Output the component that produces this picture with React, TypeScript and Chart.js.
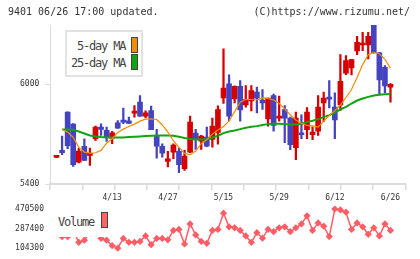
import React, { useEffect, useRef } from "react";
import { Chart, registerables } from "chart.js";

Chart.register(...registerables);

// Trading days 3/30 .. 6/26 (index 0 .. 60); date labels every 10 sessions
const dateLabels = ["4/13", "4/27", "5/15", "5/29", "6/12", "6/26"];
const dateLabelIndex = [10, 20, 30, 40, 50, 60];

const opens = [
  5560, 5602, 5832, 5760, 5532, 5626, 5572, 5672, 5742, 5722,
  5676, 5768, 5784, 5780, 5826, 5892, 5808, 5842, 5692, 5626,
  5536, 5592, 5596, 5492, 5592, 5706, 5658, 5682, 5668, 5710,
  5918, 6002, 5912, 5988, 5876, 5900, 5952, 5904, 5792, 5932,
  5796, 5848, 5796, 5618, 5706, 5726, 5696, 5718, 5888, 5922,
  5862, 5876, 6066, 6098, 6200, 6236, 6236, 6356, 6188, 6102, 5982,
];
const highs = [
  5566, 5688, 5834, 5764, 5616, 5672, 5616, 5748, 5762, 5742,
  5716, 5782, 5856, 5802, 5872, 5932, 5840, 5868, 5728, 5642,
  5596, 5642, 5616, 5602, 5808, 5728, 5692, 5742, 5796, 5870,
  6212, 6056, 5990, 6022, 5992, 5992, 5982, 5968, 5916, 5940,
  5928, 5872, 5802, 5832, 5816, 5860, 5744, 5932, 5952, 6022,
  5948, 6178, 6172, 6150, 6288, 6312, 6312, 6356, 6192, 6112, 6004,
];
const lows = [
  5558, 5576, 5612, 5506, 5526, 5540, 5512, 5662, 5692, 5656,
  5642, 5734, 5762, 5762, 5802, 5806, 5798, 5726, 5556, 5562,
  5502, 5552, 5468, 5482, 5588, 5608, 5608, 5624, 5622, 5640,
  5884, 5780, 5888, 5778, 5862, 5840, 5828, 5848, 5748, 5718,
  5778, 5648, 5606, 5546, 5672, 5672, 5666, 5692, 5776, 5858,
  5672, 5842, 6058, 6056, 6178, 6202, 6152, 6186, 5942, 5948, 5892,
];
const closes = [
  5563, 5588, 5630, 5516, 5598, 5542, 5578, 5742, 5728, 5682,
  5708, 5736, 5772, 5764, 5830, 5808, 5828, 5726, 5628, 5586,
  5552, 5634, 5516, 5568, 5772, 5666, 5688, 5628, 5748, 5848,
  5976, 5808, 5988, 5846, 5908, 5962, 5916, 5888, 5916, 5752,
  5808, 5796, 5636, 5796, 5696, 5832, 5712, 5862, 5916, 5910,
  5786, 6018, 6142, 6148, 6252, 6240, 6288, 6188, 6026, 5990, 6000,
];

const ma5 = [
  null, 5728, 5712, 5680, 5620, 5592, 5586, 5588, 5602, 5645,
  5672, 5710, 5730, 5746, 5760, 5778, 5790, 5792, 5788, 5755,
  5712, 5660, 5620, 5584, 5576, 5598, 5642, 5666, 5700, 5725,
  5745, 5780, 5835, 5892, 5908, 5908, 5905, 5918, 5915, 5905,
  5884, 5852, 5815, 5785, 5765, 5752, 5750, 5742, 5778, 5812,
  5842, 5875, 5920, 5968, 6040, 6118, 6178, 6192, 6182, 6150, 6095,
];
const ma25 = [
  null, 5728, 5728, 5726, 5716, 5704, 5692, 5685, 5682, 5680,
  5680, 5680, 5680, 5682, 5684, 5686, 5688, 5690, 5692, 5692,
  5692, 5690, 5684, 5676, 5670, 5668, 5668, 5670, 5680, 5690,
  5706, 5716, 5722, 5730, 5738, 5744, 5748, 5755, 5760, 5762,
  5762, 5760, 5758, 5758, 5762, 5772, 5780, 5790, 5802, 5814,
  5830, 5848, 5864, 5884, 5902, 5914, 5924, 5932, 5937, 5940, 5941,
];

const volumes = [
  280000, 211500, 211500, 270600, 158800, 179700, 252400, 270600, 195200, 179700,
  127900, 104300, 195200, 158800, 158800, 167900, 218800, 137000, 195200, 195200,
  182500, 270600, 279700, 143400, 331500, 227900, 167900, 149700, 270600, 279700,
  431400, 304200, 295100, 270600, 218800, 158800, 249700, 197900, 279700, 258800,
  295100, 304200, 258800, 295100, 331500, 406900, 270600, 340600, 309700, 213300,
  470500, 461400, 440500, 279700, 340600, 304200, 234200, 295100, 218800, 331500, 270600,
];

const priceTicks = [5400, 6000];
const volumeTicks = [104300, 287400, 470500];

const UP = "#d60000";
const DOWN = "#4444c0";
const MA5_COLOR = "#f28c00";
const MA25_COLOR = "#12a312";
const VOL_COLOR = "#ff5c64";
const AXIS = "#dcdcdc";
const TEXT = "#333";
const LEGEND_TEXT = "#444";
const MONO = "'DejaVu Sans Mono', monospace";

const X_MIN = -1.17;
const X_MAX = 62.66;
const X_DIVISIONS = 11;

export default function App() {
  const mainRef = useRef<HTMLCanvasElement | null>(null);
  const volRef = useRef<HTMLCanvasElement | null>(null);

  useEffect(() => {
    const candleColors = closes.map((c, i) => (c >= opens[i] ? UP : DOWN));
    const tickFont = { family: MONO, size: 8 };

    const main = new Chart(mainRef.current as HTMLCanvasElement, {
      type: "bar",
      data: {
        datasets: [
          {
            type: "line",
            data: ma5.map((v, i) => ({ x: i, y: v })),
            borderColor: MA5_COLOR,
            borderWidth: 1.2,
            pointRadius: 0,
            tension: 0,
            order: 0,
          } as any,
          {
            type: "line",
            data: ma25.map((v, i) => ({ x: i, y: v })),
            borderColor: MA25_COLOR,
            borderWidth: 2,
            pointRadius: 0,
            tension: 0,
            order: 0,
          } as any,
          {
            type: "bar",
            data: opens.map((o, i) => ({ x: i, y: [o, closes[i]] })),
            backgroundColor: candleColors,
            barThickness: 5,
            minBarLength: 2,
            grouped: false,
            order: 1,
          } as any,
          {
            type: "bar",
            data: lows.map((l, i) => ({ x: i, y: [l, highs[i]] })),
            backgroundColor: candleColors,
            barThickness: 1.6,
            grouped: false,
            order: 2,
          } as any,
        ],
      },
      options: {
        responsive: false,
        animation: false,
        events: [],
        layout: { padding: { left: 0, right: 14.7, top: 25, bottom: 53 } },
        plugins: { legend: { display: false }, tooltip: { enabled: false } },
        scales: {
          x: {
            type: "linear",
            min: X_MIN,
            max: X_MAX,
            offset: false,
            weight: 0,
            grid: {
              offset: false,
              drawOnChartArea: false,
              drawTicks: true,
              tickLength: 6,
              color: AXIS,
              lineWidth: 1.5,
            },
            border: { display: true, color: AXIS, width: 2 },
            ticks: { autoSkip: false, padding: 0, callback: () => "" },
            afterBuildTicks: (s: any) => {
              s.ticks = Array.from({ length: X_DIVISIONS + 1 }, (_, k) => ({
                value: X_MIN + (k * (X_MAX - X_MIN)) / X_DIVISIONS,
              }));
            },
            afterFit: (s: any) => {
              s.height = 6;
            },
          },
          x2: {
            type: "linear",
            position: "bottom",
            min: X_MIN,
            max: X_MAX,
            offset: false,
            weight: 1,
            grid: { display: false, drawTicks: false },
            border: { display: false },
            ticks: {
              autoSkip: false,
              maxRotation: 0,
              padding: 3,
              font: tickFont,
              color: TEXT,
              callback: (v: any) => {
                const k = dateLabelIndex.indexOf(Number(v));
                return k >= 0 ? dateLabels[k] : "";
              },
            },
            afterBuildTicks: (s: any) => {
              s.ticks = dateLabelIndex.map((v) => ({ value: v }));
            },
            afterFit: (s: any) => {
              s.height = 16;
            },
          },
          y: {
            type: "linear",
            min: 5400,
            max: 6356,
            grid: { drawOnChartArea: false, drawTicks: true, tickLength: 5, color: AXIS },
            border: { display: true, color: AXIS, width: 1 },
            ticks: {
              padding: 5.7,
              font: tickFont,
              color: TEXT,
              callback: (v: any) => String(v),
            },
            afterBuildTicks: (s: any) => {
              s.ticks = priceTicks.map((v) => ({ value: v }));
            },
            afterFit: (s: any) => {
              s.width = 50;
            },
          },
        },
      } as any,
    });

    const vol = new Chart(volRef.current as HTMLCanvasElement, {
      type: "line",
      data: {
        datasets: [
          {
            data: volumes.map((v, i) => ({ x: i, y: v })),
            borderColor: VOL_COLOR,
            backgroundColor: VOL_COLOR,
            borderWidth: 1.5,
            pointStyle: "rectRot",
            pointRadius: 3.6,
            pointBorderWidth: 0,
            pointBackgroundColor: VOL_COLOR,
            tension: 0,
            clip: false,
          } as any,
        ],
      },
      options: {
        responsive: false,
        animation: false,
        events: [],
        layout: { padding: { left: 0, right: 14.7, top: 209, bottom: 9.7 } },
        plugins: { legend: { display: false }, tooltip: { enabled: false } },
        scales: {
          x: { type: "linear", min: X_MIN, max: X_MAX, display: false },
          y: {
            type: "linear",
            min: volumeTicks[0],
            max: volumeTicks[volumeTicks.length - 1],
            grid: { display: false, drawTicks: false },
            border: { display: false },
            ticks: {
              padding: 6,
              font: tickFont,
              color: TEXT,
              callback: (v: any) => String(v),
            },
            afterBuildTicks: (s: any) => {
              s.ticks = volumeTicks.map((v) => ({ value: v }));
            },
            afterFit: (s: any) => {
              s.width = 50;
            },
          },
        },
      } as any,
    });

    return () => {
      main.destroy();
      vol.destroy();
    };
  }, []);

  const legendText: React.CSSProperties = {
    position: "absolute",
    fontFamily: MONO,
    fontSize: 12,
    lineHeight: "12px",
    letterSpacing: "-1.2px",
    color: LEGEND_TEXT,
    whiteSpace: "pre",
  };
  const swatch = (color: string, left: number, top: number, h: number): React.CSSProperties => ({
    position: "absolute",
    left,
    top,
    width: 7,
    height: h,
    boxSizing: "border-box",
    border: "1px solid #444",
    background: color,
  });

  return (
    <div
      style={{
        position: "fixed",
        left: 0,
        top: 0,
        width: 420,
        height: 259,
        background: "#fff",
        overflow: "hidden",
      }}
    >
      <canvas ref={mainRef} width={420} height={259} style={{ position: "absolute", left: 0, top: 0 }} />
      <canvas ref={volRef} width={420} height={259} style={{ position: "absolute", left: 0, top: 0 }} />

      <div
        style={{
          position: "absolute",
          left: 8,
          top: 7.4,
          fontFamily: MONO,
          fontSize: 10,
          lineHeight: "10px",
          color: TEXT,
          whiteSpace: "pre",
        }}
      >
        9401 06/26 17:00 updated.
      </div>
      <div
        style={{
          position: "absolute",
          right: 10,
          top: 7.4,
          fontFamily: MONO,
          fontSize: 10,
          lineHeight: "10px",
          color: TEXT,
          whiteSpace: "pre",
        }}
      >
        (C)https://www.rizumu.net/
      </div>

      <div
        style={{
          position: "absolute",
          left: 65,
          top: 30,
          width: 78,
          height: 47,
          boxSizing: "border-box",
          border: "2px solid #e2e2e2",
          background: "#fff",
        }}
      />
      <div style={{ ...legendText, right: 420 - 125.2, top: 40.2, textAlign: "right" }}>5-day MA</div>
      <div style={{ ...legendText, right: 420 - 125.2, top: 56.9, textAlign: "right" }}>25-day MA</div>
      <div style={swatch(MA5_COLOR, 131, 37, 16)} />
      <div style={swatch(MA25_COLOR, 131, 54, 16)} />

      <div
        style={{
          position: "absolute",
          left: 52,
          top: 208,
          width: 62,
          height: 28.5,
          background: "#fff",
        }}
      />
      <div style={{ ...legendText, left: 58, top: 215.9 }}>Volume</div>
      <div style={swatch("#ff6464", 101, 212, 16)} />
    </div>
  );
}
